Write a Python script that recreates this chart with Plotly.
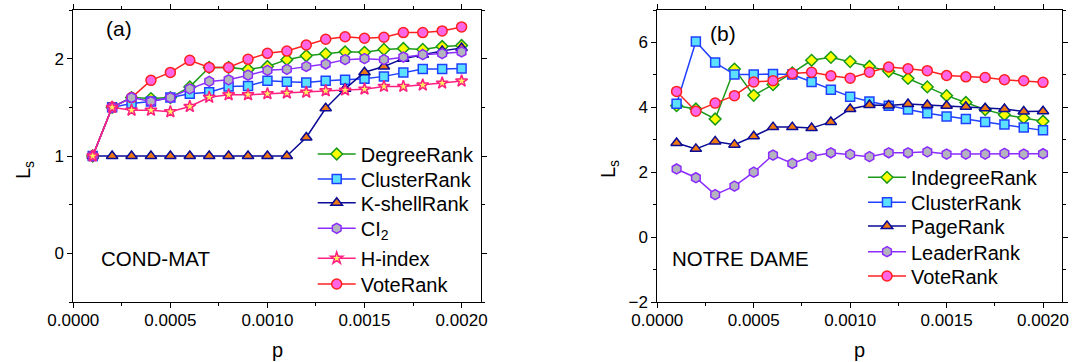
import plotly.graph_objects as go

# ---- data -----------------------------------------------------------------
p = [0.0001, 0.0002, 0.0003, 0.0004, 0.0005, 0.0006, 0.0007, 0.0008, 0.0009, 0.0010,
     0.0011, 0.0012, 0.0013, 0.0014, 0.0015, 0.0016, 0.0017, 0.0018, 0.0019, 0.0020]

# (a) COND-MAT
cm_degree = [1.0, 1.5, 1.60, 1.59, 1.60, 1.71, 1.91, 1.91, 1.89, 1.92,
             1.99, 2.03, 2.05, 2.07, 2.065, 2.095, 2.105, 2.095, 2.125, 2.135]
cm_cluster = [1.0, 1.5, 1.54, 1.56, 1.60, 1.64, 1.655, 1.715, 1.72, 1.773,
              1.763, 1.756, 1.773, 1.783, 1.794, 1.818, 1.859, 1.893, 1.893, 1.90]
cm_kshell = [1.0, 1.0, 1.0, 1.0, 1.0, 1.0, 1.0, 1.0, 1.0, 1.0,
             1.0, 1.19, 1.49, 1.69, 1.86, 1.92, 2.0, 2.04, 2.08, 2.11]
cm_ci2 = [1.0, 1.5, 1.60, 1.56, 1.60, 1.69, 1.766, 1.783, 1.83, 1.88,
          1.89, 1.92, 1.945, 1.99, 2.0, 1.99, 2.017, 2.041, 2.052, 2.069]
cm_hindex = [1.0, 1.5, 1.47, 1.47, 1.455, 1.508, 1.603, 1.629, 1.629, 1.64,
             1.646, 1.655, 1.67, 1.677, 1.687, 1.715, 1.715, 1.729, 1.749, 1.77]
cm_vote = [1.0, 1.5, 1.60, 1.777, 1.859, 1.983, 1.91, 1.91, 1.993, 2.055,
           2.078, 2.14, 2.2, 2.225, 2.21, 2.22, 2.268, 2.268, 2.285, 2.326]

# (b) NOTRE DAME
nd_indegree = [4.05, 3.95, 3.64, 5.18, 4.37, 4.70, 5.06, 5.45, 5.54, 5.41,
               5.26, 5.11, 4.89, 4.63, 4.36, 4.15, 3.93, 3.77, 3.67, 3.57]
nd_cluster = [4.11, 6.03, 5.38, 5.01, 5.01, 5.03, 5.01, 4.78, 4.54, 4.33,
              4.18, 4.05, 3.93, 3.82, 3.72, 3.64, 3.55, 3.47, 3.38, 3.29]
nd_page = [2.90, 2.72, 2.95, 2.85, 3.11, 3.39, 3.39, 3.36, 3.55, 3.95,
           4.07, 4.06, 4.10, 4.07, 4.05, 4.02, 3.97, 3.95, 3.87, 3.88]
nd_leader = [2.10, 1.83, 1.31, 1.57, 2.00, 2.53, 2.27, 2.49, 2.60, 2.55,
             2.48, 2.60, 2.60, 2.63, 2.56, 2.56, 2.56, 2.58, 2.56, 2.57]
nd_vote = [4.49, 3.88, 4.13, 4.36, 4.78, 4.82, 5.04, 5.08, 4.97, 4.90,
           5.08, 5.24, 5.19, 5.13, 4.98, 4.94, 4.92, 4.85, 4.82, 4.77]

# ---- styles ---------------------------------------------------------------
FONT = "Liberation Sans, Arial, sans-serif"
GREEN, YELLOW = "#1A9A1A", "#FFFF00"
BLUE, CYAN = "#2040FF", "#5CE0FF"
NAVY, ORANGE = "#0A0A96", "#F07810"
PURPLE, GREY = "#8B2CFF", "#B4B4BE"
PINK, LIGHTY = "#FF2080", "#FFF060"
RED, MAGENTA = "#FF2020", "#FF66E6"

W, H = 1083, 362

# plot-area pixel boxes
A_X0, A_X1 = 73.3, 481.0
B_X0, B_X1 = 657.3, 1062.3
Y_TOP, Y_BOT = 10.0, 302.0


def px(x):
    return x / W


def py(y):
    return 1 - y / H


fig = go.Figure()

# (name, values, line colour, symbol, fill, size, legend row y)
panel_a = [
    ("DegreeRank", cm_degree, GREEN, "diamond", YELLOW, 9, 154.0),
    ("ClusterRank", cm_cluster, BLUE, "square", CYAN, 9, 179.0),
    ("K-shellRank", cm_kshell, NAVY, "triangle-up", ORANGE, 10, 202.7),
    ("VoteRank", cm_vote, RED, "circle", MAGENTA, 10, 284.0),
    ("CI<sub>2</sub>", cm_ci2, PURPLE, "hexagon", GREY, 10, 228.3),
    ("H-index", cm_hindex, PINK, "star", LIGHTY, 9, 258.3),
]
panel_b = [
    ("IndegreeRank", nd_indegree, GREEN, "diamond", YELLOW, 9, 177.3),
    ("ClusterRank", nd_cluster, BLUE, "square", CYAN, 9, 202.3),
    ("PageRank", nd_page, NAVY, "triangle-up", ORANGE, 10, 226.0),
    ("LeaderRank", nd_leader, PURPLE, "hexagon", GREY, 10, 251.7),
    ("VoteRank", nd_vote, RED, "circle", MAGENTA, 10, 276.0),
]

legends = {}
k = 0
for panel, items, xa, ya, mx in (("a", panel_a, "x", "y", 332.7), ("b", panel_b, "x2", "y2", 883.0)):
    for name, vals, lc, sym, fc, sz, ly in items:
        k += 1
        key = "legend" if k == 1 else f"legend{k}"
        fig.add_trace(go.Scatter(
            x=p, y=vals, name=name, mode="lines+markers",
            xaxis=xa, yaxis=ya, legend=key,
            line=dict(color=lc, width=1.5),
            marker=dict(symbol=sym, size=sz, color=fc, line=dict(color=lc, width=1.5)),
        ))
        legends[key] = dict(
            x=px(mx - 20), y=py(ly), xanchor="left", yanchor="middle",
            xref="paper", yref="paper",
            bgcolor="rgba(0,0,0,0)", borderwidth=0, itemwidth=38,
            font=dict(family=FONT, size=20, color="black"),
        )

axis_common = dict(
    showline=True, linecolor="black", linewidth=1, mirror="ticks",
    ticks="outside", ticklen=5, tickwidth=1, tickcolor="black",
    showgrid=False, zeroline=False, automargin=False,
    tickfont=dict(family=FONT, size=17, color="black"),
)

xa_common = dict(axis_common, range=[0, 0.0021], tick0=0, dtick=0.0005, tickformat=".4f",
                 ticklabelstandoff=-2,
                 minor=dict(dtick=0.00025, ticks="outside", ticklen=3, tickcolor="black", showgrid=False))

fig.update_layout(
    width=W, height=H,
    margin=dict(l=0, r=0, t=0, b=0),
    paper_bgcolor="white", plot_bgcolor="white",
    showlegend=True,
    xaxis=dict(xa_common, domain=[px(A_X0), px(A_X1)], anchor="y"),
    yaxis=dict(axis_common, domain=[py(Y_BOT), py(Y_TOP)], anchor="x",
               range=[-0.5, 2.5], tick0=0, dtick=1,
               minor=dict(dtick=0.5, ticks="outside", ticklen=3, tickcolor="black", showgrid=False)),
    xaxis2=dict(xa_common, domain=[px(B_X0), px(B_X1)], anchor="y2"),
    yaxis2=dict(axis_common, domain=[py(Y_BOT), py(Y_TOP)], anchor="x2",
                range=[-2, 7], tick0=0, dtick=2,
                minor=dict(dtick=1, ticks="outside", ticklen=3, tickcolor="black", showgrid=False)),
    **legends,
)

txt = dict(family=FONT, size=20, color="black")
annots = [
    dict(text="(a)", x=px(118.5), y=py(28.5), xanchor="center", yanchor="middle", size=21),
    dict(text="(b)", x=px(722.5), y=py(33.5), xanchor="center", yanchor="middle", size=21),
    dict(text="COND-MAT", x=px(99), y=py(258), xanchor="left", yanchor="middle", size=20.5),
    dict(text="NOTRE DAME", x=px(670), y=py(258), xanchor="left", yanchor="middle", size=20.5),
    dict(text="p", x=px((A_X0 + A_X1) / 2), y=py(350), xanchor="center", yanchor="middle", size=20),
    dict(text="p", x=px((B_X0 + B_X1) / 2), y=py(350), xanchor="center", yanchor="middle", size=20),
    dict(text="L<sub>s</sub>", x=px(24), y=py(170), xanchor="center", yanchor="middle", textangle=-90, size=20),
    dict(text="L<sub>s</sub>", x=px(609), y=py(169), xanchor="center", yanchor="middle", textangle=-90, size=20),
]
for a in annots:
    size = a.pop("size")
    fig.add_annotation(xref="paper", yref="paper", showarrow=False, font=dict(txt, size=size), **a)

fig.write_html("out.html")
